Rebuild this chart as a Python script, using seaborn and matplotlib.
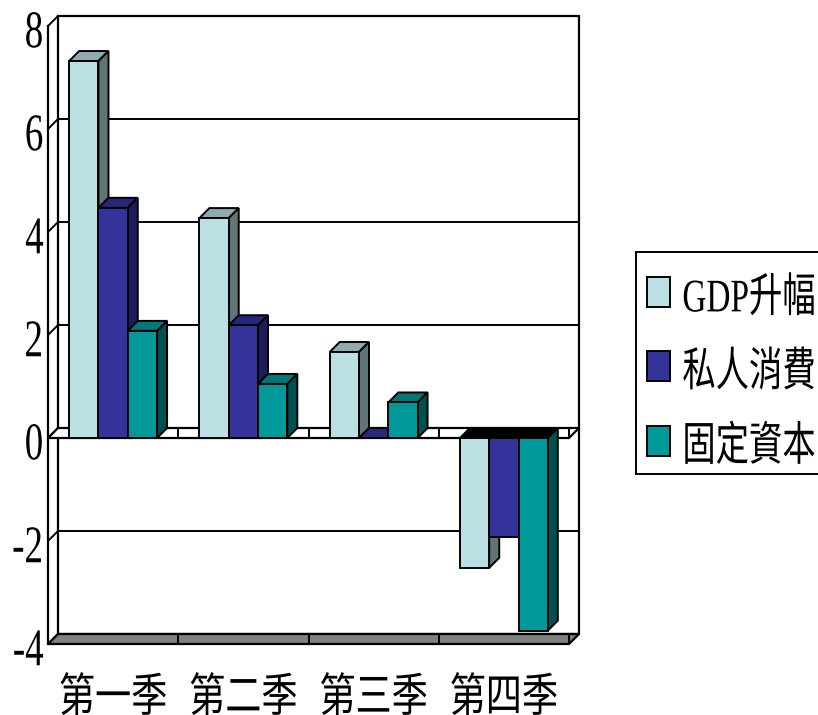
import matplotlib
matplotlib.use('Agg')
import matplotlib.pyplot as plt
import matplotlib.patheffects as pe
from matplotlib.patches import Polygon, Rectangle
from matplotlib.transforms import Affine2D
import pandas as pd
import seaborn as sns

quarters = ['第一季', '第二季', '第三季', '第四季']
series_names = ['GDP升幅', '私人消費', '固定資本']
gdp = [7.32, 4.27, 1.67, -2.52]
consumption = [4.47, 2.19, 0.0, -1.92]
capital = [2.08, 1.05, 0.69, -3.74]
y_ticks = [-4, -2, 0, 2, 4, 6, 8]
y_labels = ['-4', '-2', '0', '2', '4', '6', '8']

front_colors = ['#BAE0E3', '#333399', '#009999']
side_colors = ['#5F7577', '#1C1C5C', '#005050']
top_colors = ['#8FABAE', '#28287A', '#007878']

LATIN_CJK = ['Liberation Serif', 'Noto Sans CJK TC']


class Squeeze(pe.AbstractPathEffect):
    # text squeezed like the narrow font of the original chart
    def __init__(self, sx=1.0, sy=1.0, anchor='center', down=0):
        super().__init__()
        self.sx, self.sy, self.anchor, self.down = sx, sy, anchor, down

    def draw_path(self, renderer, gc, tpath, affine, rgbFace=None):
        ext = tpath.get_extents()
        xa = {'left': ext.x0, 'right': ext.x1, 'center': (ext.x0 + ext.x1) / 2}[self.anchor]
        ya = (ext.y0 + ext.y1) / 2
        t = Affine2D().translate(-xa, -ya).scale(self.sx, self.sy).translate(xa, ya)
        renderer.draw_path(gc, tpath, t + affine + Affine2D().translate(0, -self.down), rgbFace)


df = pd.DataFrame({
    'quarter': quarters * 3,
    'series': [s for s in series_names for _ in quarters],
    'value': gdp + consumption + capital,
})

sns.set_theme(style='white')
plt.rcParams['font.family'] = LATIN_CJK

fig = plt.figure(figsize=(8.18, 7.15), dpi=100)
ax = fig.add_axes([48 / 818, 1 - 644 / 715, 521 / 818, 618 / 715])

sns.barplot(data=df, x='quarter', y='value', hue='series', palette=front_colors, saturation=1,
            width=0.675, gap=0, edgecolor='black', linewidth=1.4, ax=ax)
ax.set_xlim(-0.5, 3.5)
ax.set_ylim(-4, 8)

# depth of the fake 3D box, 10 px in both directions
dx = 10 / (521 / 4)
dy = 10 / (618 / 12)
x0, x1 = -0.5, 3.5
line = {'color': 'black', 'lw': 1.4, 'clip_on': False, 'solid_capstyle': 'butt'}

ax.add_patch(Rectangle((x0 + dx, -4 + dy), x1 - x0, 12, fc='white', ec='black', lw=1.6, zorder=0.5, clip_on=False))
for t in y_ticks:
    ax.plot([x0, x0 + dx, x1 + dx], [t, t + dy, t + dy], zorder=0.6, **line)

for level, color in [(-4, '#808080'), (0, 'white')]:
    ax.add_patch(Polygon([(x0, level), (x0 + dx, level + dy), (x1 + dx, level + dy), (x1, level)],
                         fc=color, ec='black', lw=1.6, zorder=1, clip_on=False))
    for b in [0.5, 1.5, 2.5]:
        ax.plot([b, b], [level, level + dy], zorder=1.1, **line)
    ax.plot([x1, x1], [level, level + dy], zorder=1.1, **line)

for i, bars in enumerate(ax.containers):
    for bar in bars:
        left, right = bar.get_x(), bar.get_x() + bar.get_width()
        v = bar.get_height()
        top = max(v, 0)
        top_color = top_colors[i] if v >= 0 else 'black'
        ax.add_patch(Polygon([(left, top), (left + dx, top + dy), (right + dx, top + dy), (right, top)],
                             fc=top_color, ec='black', lw=1.4, zorder=3 + i, clip_on=False))
        ax.add_patch(Polygon([(right, 0 if v < 0 else v), (right + dx, (0 if v < 0 else v) + dy),
                              (right + dx, (v if v < 0 else 0) + dy), (right, v if v < 0 else 0)],
                             fc=side_colors[i], ec='black', lw=1.4, zorder=3.2 + i, clip_on=False))
        bar.set_zorder(3.5 + i)

sns.despine(ax=ax, top=True, right=True, bottom=True, left=False)
ax.spines['left'].set_color('black')
ax.spines['left'].set_linewidth(1.6)
ax.set_xlabel('')
ax.set_ylabel('')
ax.set_yticks(y_ticks, labels=y_labels)
ax.tick_params(axis='both', length=0)
ax.tick_params(axis='y', pad=3)
ax.tick_params(axis='x', pad=27)

for lab in ax.get_yticklabels():
    lab.set_fontsize(37)
    lab.set_family('Liberation Serif')
    lab.set_color('black')
    lab.set_path_effects([Squeeze(0.72, 1.03, 'right', down=3)])
for lab in ax.get_xticklabels():
    lab.set_fontsize(26)
    lab.set_family(LATIN_CJK)
    lab.set_color('black')
    lab.set_path_effects([Squeeze(1.0, 1.28, 'center')])

# legend box runs past the right edge of the picture, as in the original
fig.add_artist(Rectangle((636 / 818, 1 - 474 / 715), 200 / 818, 222 / 715, transform=fig.transFigure,
                         fc='white', ec='black', lw=1.4, zorder=-1))
handles, labels = ax.get_legend_handles_labels()
leg = ax.legend(handles, labels, loc='upper left', bbox_to_anchor=(647 / 818, 1 - 277 / 715),
                bbox_transform=fig.transFigure, borderaxespad=0, borderpad=0, fontsize=24, frameon=False,
                handlelength=0.7, handleheight=1.0, handletextpad=0.36, labelspacing=1.23)
for txt in leg.get_texts():
    txt.set_color('black')
    txt.set_path_effects([Squeeze(1.0, 1.4, 'left', down=3)])

fig.savefig('out.png', dpi=100)
